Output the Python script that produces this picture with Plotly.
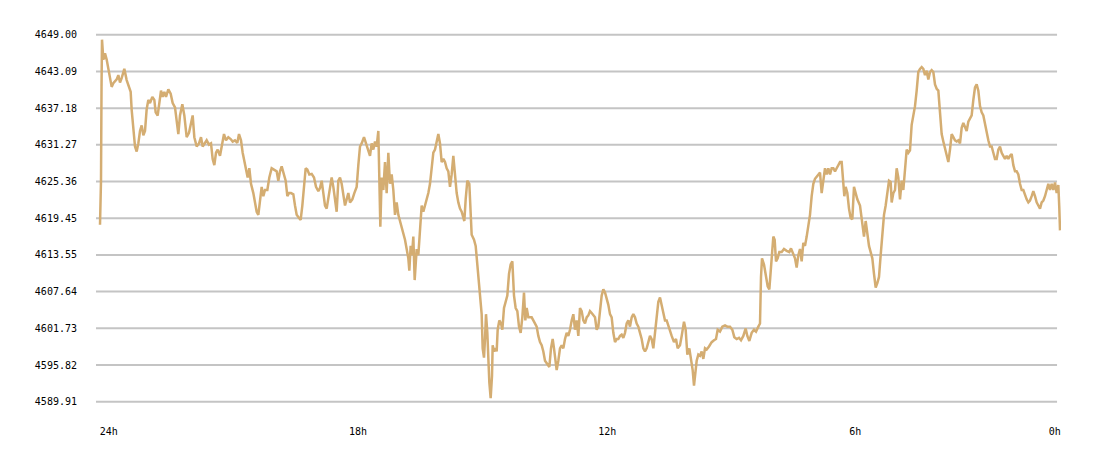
import plotly.graph_objects as go

# ---------------------------------------------------------- DATA ----------------------------------------------------------#
# minutes before now (1440 = 24h ago, 0 = now)
minutes_ago = [
    1440, 1438.5, 1437.7, 1437, 1435, 1432.5, 1430, 1427.5, 1425, 1422.5, 1420, 1417.5, 1415, 1412.5, 1410,
    1407.5, 1403.5, 1400, 1397.5, 1394, 1392.5, 1390, 1387.5, 1385, 1382.5, 1380, 1377.5, 1375, 1372.5, 1370,
    1367.5, 1365, 1361.5, 1358.5, 1356.5, 1353.5, 1351, 1348.5, 1346, 1343.5, 1341, 1337.5, 1334, 1331, 1327.5,
    1325, 1322.5, 1320, 1316.5, 1313.5, 1310, 1306.5, 1303.5, 1301, 1298.5, 1295, 1291.5, 1288.5, 1286, 1282.5,
    1280, 1276.5, 1273.5, 1271, 1268.5, 1266, 1263.5, 1260, 1257.5, 1254, 1251, 1247.5, 1244, 1241, 1237.5,
    1234, 1231.5, 1228.5, 1226, 1223.5, 1221, 1218.5, 1216, 1213.5, 1210, 1207.5, 1205, 1202.5, 1200, 1197.5,
    1195, 1192.5, 1189, 1186, 1182.5, 1179, 1175, 1172.5, 1170, 1167.5, 1164, 1161.5, 1159, 1156.5, 1153.5,
    1150, 1147.5, 1145, 1141.5, 1139, 1136.5, 1134, 1131.5, 1129, 1126, 1122.5, 1119, 1116, 1112.5, 1110,
    1107.5, 1105, 1102.5, 1100, 1097.5, 1095, 1092.5, 1090, 1087.5, 1085, 1082.5, 1080, 1077.5, 1075, 1072.5,
    1070, 1067.5, 1065, 1061.5, 1058.5, 1055, 1052.5, 1050, 1047.5, 1044, 1041, 1037.5, 1035, 1032.5, 1030,
    1027.5, 1025, 1022.5, 1021, 1019.5, 1017.5, 1015, 1012.5, 1010, 1007.5, 1005, 1002.5, 1000, 997.5, 995,
    992.5, 990, 987.5, 985, 982.5, 980, 977.5, 976, 974, 972, 970, 968, 965, 962.5, 960,
    957.5, 955, 952.5, 950, 947.5, 945, 942.5, 940, 937.5, 935, 932.5, 930, 927.5, 925, 922.5,
    920, 917.5, 915, 912.5, 910, 907.5, 905, 902.5, 900, 897.5, 895, 893.5, 891.5, 889, 886,
    884, 882.5, 879, 876.5, 874, 871.5, 869, 867.5, 866, 864, 862.5, 861, 859, 857.5, 856,
    854, 852, 851, 849, 846.5, 845, 843.5, 841, 838.5, 836.5, 834, 831.5, 829, 826.5, 824,
    821.5, 819, 816.5, 814, 811.5, 809, 806.5, 804, 802, 800, 797.5, 795, 792.5, 790, 787.5,
    785, 782.5, 780, 777.5, 775, 772.5, 769, 766, 763.5, 761, 759, 757, 755, 752.5, 750,
    747.5, 745, 742.5, 740, 737.5, 735, 732.5, 730, 727.5, 725, 722.5, 720, 717.5, 715, 712.5,
    710, 707.5, 705, 702.5, 700, 697.5, 695, 692.5, 690, 687.5, 685, 682.5, 680, 677.5, 675,
    672.5, 670, 667.5, 665, 662.5, 660, 657.5, 655, 652.5, 650, 647.5, 645, 642.5, 640, 637.5,
    635, 632.5, 630, 627.5, 625, 622.5, 620, 617.5, 615, 612.5, 610, 607.5, 605, 602.5, 600,
    597.5, 595, 592.5, 590, 586, 582.5, 579, 576, 573.5, 570, 567.5, 564, 561.5, 559, 556,
    553.5, 551, 549, 547, 545, 542.5, 540, 537.5, 535, 532.5, 530, 526.5, 522.5, 519, 516,
    513.5, 510, 506.5, 502.5, 499, 495, 491.5, 488.5, 485, 481.5, 478.5, 475, 471.5, 469, 466,
    462.5, 459, 456, 452.5, 450, 448.5, 447, 444, 441, 438.5, 436, 433.5, 432, 430, 428,
    426, 423.5, 421, 417.5, 414, 410, 406, 403.5, 400, 397.5, 395, 392.5, 390, 387.5, 385,
    382.5, 380, 377.5, 375, 372.5, 370, 367.5, 365, 362.5, 360, 357.5, 355, 352.5, 350, 347.5,
    345, 342.5, 340, 337.5, 335, 332.5, 330, 327.5, 325, 323.5, 321.5, 319, 316.5, 314, 311.5,
    309, 306.5, 304, 300, 296.5, 294, 291.5, 289, 286.5, 284, 281.5, 279, 276.5, 274, 271.5,
    269, 266.5, 264, 261.5, 259, 256.5, 254, 252.5, 250, 247.5, 245, 242.5, 240, 237.5, 235,
    232.5, 230, 227.5, 225, 222.5, 220, 217.5, 215, 212.5, 210, 207.5, 205, 202.5, 200, 197.5,
    195, 192.5, 190, 187.5, 185, 182.5, 180, 177.5, 175, 172.5, 170, 167.5, 165, 162.5, 160,
    157.5, 155, 152.5, 150, 147.5, 145, 142.5, 140, 137.5, 135, 132.5, 130, 127.5, 125, 122.5,
    120, 117.5, 115, 112.5, 110, 107.5, 105, 102.5, 100, 97.5, 95, 92.5, 90, 87.5, 85,
    82.5, 80, 77.5, 75, 72.5, 70, 67.5, 65, 62.5, 60, 57.5, 55, 52.5, 50, 47.5,
    45, 42.5, 40, 37.5, 35, 32.5, 30, 27.5, 25, 22.5, 20, 17.5, 15, 12.5, 10,
    7.5, 5, 2.5, 1, 0,
]
price = [
    4618.4, 4625.5, 4640.7, 4648.2, 4645.0, 4646.0, 4645.0, 4643.5, 4641.5, 4640.6, 4641.2, 4641.5, 4641.8, 4642.5, 4641.3,
    4642.0, 4643.5, 4641.7, 4641.0, 4639.8, 4636.9, 4633.7, 4631.0, 4630.2, 4631.5, 4633.5, 4634.4, 4632.8, 4633.5, 4637.0,
    4638.5, 4638.0, 4639.0, 4638.5, 4636.5, 4636.0, 4638.5, 4640.0, 4639.0, 4639.8, 4639.0, 4640.2, 4639.5, 4638.0, 4637.3,
    4635.0, 4633.0, 4636.0, 4637.8, 4636.0, 4632.5, 4633.2, 4635.0, 4636.0, 4632.5, 4631.0, 4631.5, 4632.5, 4631.0, 4631.5,
    4632.0, 4631.3, 4631.5, 4629.0, 4628.0, 4630.0, 4630.5, 4629.5, 4631.0, 4633.0, 4632.0, 4632.5, 4632.2, 4631.8, 4632.0,
    4631.6, 4633.0, 4632.0, 4630.0, 4628.5, 4627.0, 4626.0, 4627.5, 4625.0, 4623.5, 4622.0, 4620.5, 4620.0, 4622.0, 4624.5,
    4623.0, 4624.0, 4624.0, 4626.0, 4627.5, 4627.3, 4627.0, 4625.5, 4627.0, 4627.8, 4626.5, 4625.5, 4623.0, 4623.5, 4623.5,
    4623.3, 4621.5, 4620.0, 4619.5, 4619.2, 4621.5, 4624.0, 4627.5, 4627.3, 4626.5, 4626.6, 4626.0, 4624.5, 4623.8, 4624.3,
    4625.5, 4623.5, 4621.5, 4621.0, 4622.5, 4624.0, 4626.0, 4624.5, 4622.0, 4620.5, 4625.5, 4626.0, 4625.0, 4623.0, 4621.5,
    4622.5, 4623.5, 4622.0, 4622.5, 4623.5, 4624.5, 4628.0, 4631.0, 4631.5, 4632.5, 4631.5, 4630.5, 4629.5, 4631.5, 4630.5,
    4631.8, 4631.0, 4633.5, 4625.0, 4618.1, 4626.0, 4624.0, 4628.5, 4623.5, 4630.0, 4625.0, 4626.5, 4624.0, 4620.0, 4622.0,
    4620.0, 4619.0, 4618.0, 4617.0, 4616.0, 4614.5, 4613.0, 4611.0, 4615.0, 4613.5, 4616.5, 4609.5, 4614.5, 4613.5, 4618.0,
    4621.5, 4620.5, 4621.5, 4622.5, 4623.5, 4625.0, 4627.5, 4630.0, 4630.5, 4632.0, 4633.0, 4631.5, 4628.5, 4629.0, 4628.5,
    4627.5, 4627.0, 4624.5, 4626.5, 4629.5, 4626.0, 4623.5, 4622.0, 4621.0, 4620.5, 4619.5, 4619.0, 4622.5, 4625.5, 4625.0,
    4621.0, 4616.8, 4616.0, 4615.0, 4612.0, 4609.0, 4606.5, 4604.0, 4598.5, 4597.0, 4600.0, 4604.0, 4601.0, 4596.0, 4593.0,
    4590.5, 4594.0, 4599.0, 4598.0, 4598.5, 4598.0, 4601.5, 4603.0, 4602.5, 4601.5, 4605.0, 4606.0, 4607.0, 4610.5, 4612.0,
    4612.5, 4607.0, 4605.0, 4604.5, 4602.0, 4601.0, 4603.5, 4607.5, 4603.0, 4605.0, 4603.5, 4603.5, 4603.5, 4603.0, 4602.5,
    4602.0, 4600.5, 4599.5, 4599.0, 4598.0, 4596.5, 4596.0, 4595.5, 4598.5, 4600.0, 4598.5, 4596.5, 4595.0, 4596.5, 4598.5,
    4599.0, 4598.5, 4600.0, 4601.0, 4600.5, 4601.5, 4603.0, 4604.0, 4601.5, 4603.0, 4600.5, 4605.0, 4604.5, 4603.0, 4602.5,
    4603.5, 4603.8, 4604.5, 4604.2, 4603.8, 4603.5, 4601.5, 4602.0, 4604.5, 4607.0, 4608.0, 4607.5, 4606.5, 4605.5, 4604.0,
    4603.5, 4601.0, 4599.5, 4600.0, 4600.0, 4600.5, 4600.7, 4600.2, 4601.0, 4602.5, 4603.0, 4602.0, 4603.5, 4604.0, 4603.5,
    4602.5, 4602.0, 4601.0, 4600.0, 4598.5, 4598.0, 4598.5, 4599.5, 4600.5, 4600.0, 4598.5, 4601.0, 4604.0, 4606.0, 4606.7,
    4605.5, 4604.3, 4603.0, 4603.0, 4601.5, 4600.5, 4599.5, 4600.0, 4598.5, 4599.0, 4600.5, 4602.8, 4601.5, 4597.5, 4598.5,
    4597.0, 4595.0, 4592.5, 4594.5, 4596.5, 4597.5, 4597.3, 4598.0, 4596.8, 4598.5, 4598.3, 4598.8, 4599.5, 4599.8, 4600.0,
    4601.5, 4601.2, 4602.0, 4602.2, 4602.0, 4602.0, 4601.5, 4600.3, 4600.0, 4600.2, 4599.8, 4600.5, 4601.7, 4600.5, 4599.7,
    4601.0, 4601.5, 4601.2, 4602.0, 4602.5, 4610.0, 4613.0, 4612.0, 4610.0, 4608.5, 4608.0, 4611.5, 4615.0, 4616.5, 4616.0,
    4612.5, 4613.0, 4614.0, 4614.0, 4614.5, 4614.2, 4614.0, 4614.6, 4613.5, 4613.0, 4611.5, 4613.5, 4614.5, 4612.5, 4615.5,
    4615.0, 4616.5, 4618.5, 4620.0, 4623.0, 4625.0, 4625.8, 4626.2, 4626.5, 4626.8, 4623.5, 4626.0, 4627.5, 4626.5, 4627.5,
    4626.5, 4627.5, 4627.5, 4627.0, 4627.5, 4628.0, 4628.5, 4628.5, 4625.0, 4623.0, 4624.5, 4623.5, 4621.0, 4619.5, 4619.3,
    4624.5, 4623.5, 4622.5, 4621.5, 4618.5, 4616.5, 4619.0, 4617.0, 4615.0, 4614.0, 4613.0, 4610.5, 4608.3, 4609.0, 4610.0,
    4613.5, 4617.5, 4620.0, 4621.5, 4624.0, 4625.5, 4625.3, 4622.0, 4623.5, 4624.0, 4627.5, 4626.0, 4622.5, 4625.5, 4624.0,
    4627.0, 4630.5, 4630.0, 4630.4, 4634.5, 4636.0, 4637.5, 4640.0, 4643.0, 4643.5, 4643.8, 4643.5, 4642.5, 4643.2, 4641.8,
    4643.0, 4643.3, 4643.0, 4641.0, 4640.3, 4640.0, 4636.5, 4633.0, 4631.8, 4630.5, 4629.5, 4628.5, 4630.5, 4633.0, 4632.5,
    4632.0, 4631.8, 4632.0, 4631.5, 4634.0, 4634.8, 4634.0, 4633.5, 4635.0, 4635.5, 4636.0, 4638.5, 4640.5, 4641.0, 4640.0,
    4637.5, 4636.5, 4636.0, 4634.5, 4633.0, 4632.0, 4631.0, 4631.0, 4630.0, 4629.0, 4629.0, 4630.5, 4631.0, 4630.0, 4629.5,
    4629.0, 4629.5, 4629.0, 4629.5, 4629.8, 4628.0, 4627.0, 4627.0, 4626.5, 4625.0, 4624.0, 4624.0, 4623.2, 4622.5, 4622.0,
    4622.3, 4623.0, 4623.8, 4623.0, 4622.0, 4621.5, 4621.0, 4622.0, 4622.3, 4623.0, 4624.0, 4625.0, 4624.0, 4625.0, 4624.0,
    4625.2, 4623.5, 4624.8, 4621.0, 4617.5,
]
y_tick_labels = ["4589.91", "4595.82", "4601.73", "4607.64", "4613.55", "4619.45",
                 "4625.36", "4631.27", "4637.18", "4643.09", "4649.00"]
x_tick_labels = ["24h", "18h", "12h", "6h", "0h"]

# ---------------------------------------------------------- STYLE ---------------------------------------------------------#
lineColor = "#d4ad72"
gridColor = "#c4c4c4"
labelFont = dict(family="DejaVu Sans Mono", size=10, color="#000000")

fig = go.Figure(go.Scatter(x=minutes_ago, y=price, mode="lines",
                           line=dict(color=lineColor, width=2.5), hoverinfo="skip"))

# horizontal gridlines (stop a little short of the right end of the line)
for label in y_tick_labels:
    fig.add_shape(type="line", xref="x domain", yref="y", x0=0, x1=0.9959,
                  y0=float(label), y1=float(label), layer="below",
                  line=dict(color=gridColor, width=2))

# page body adds an 8px margin, so the figure is 8px smaller on each axis
fig.update_layout(
    width=1092, height=450,
    margin=dict(l=88, r=39, t=22, b=52),
    paper_bgcolor="white", plot_bgcolor="white",
    showlegend=False,
    xaxis=dict(range=[1446, -1.5], showgrid=False, zeroline=False, showline=False, automargin=False,
               tickmode="array", tickvals=[1427, 1053, 679, 307, 8], ticktext=x_tick_labels,
               tickfont=labelFont, ticks="", ticklabelstandoff=18),
    yaxis=dict(range=[4589.22, 4649.76], showgrid=False, zeroline=False, showline=False, automargin=False,
               tickmode="array", tickvals=[float(v) for v in y_tick_labels], ticktext=y_tick_labels,
               tickfont=labelFont, ticks="", ticklabelstandoff=18),
)

fig.write_html("out.html")
